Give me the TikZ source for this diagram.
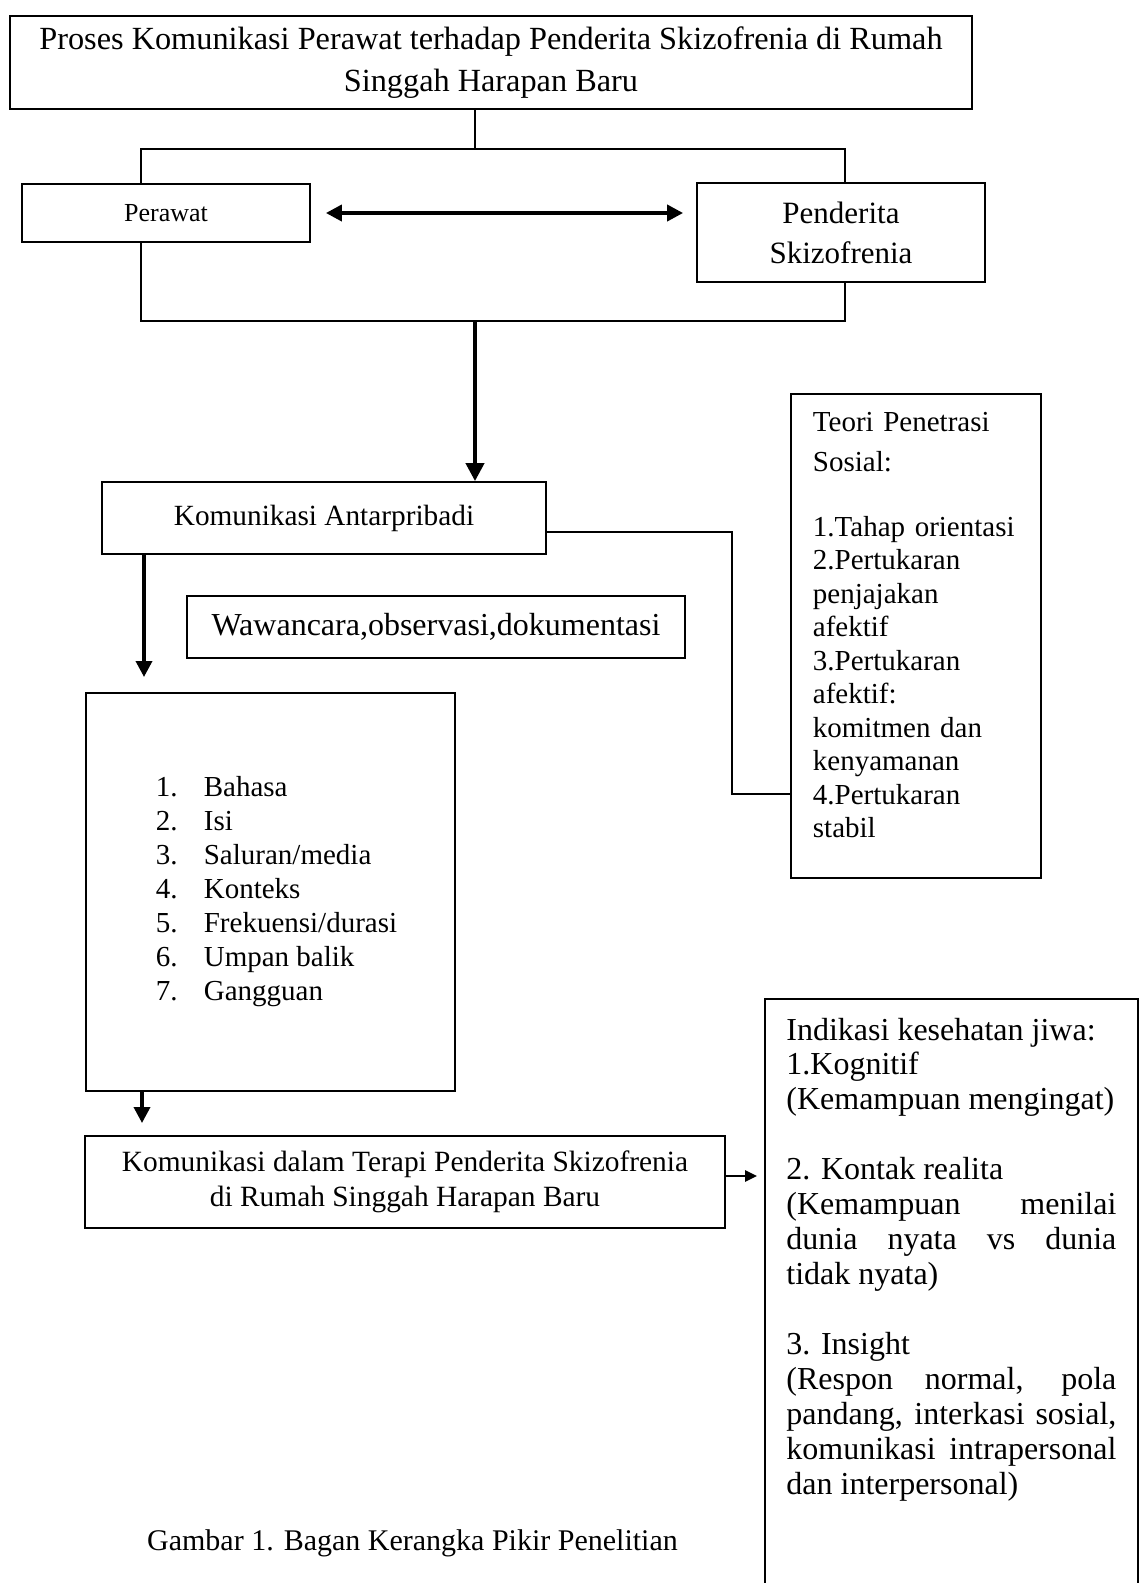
\documentclass[tikz,border=0pt]{standalone}
\usepackage{fontspec}
\setmainfont{Liberation Serif}
\usetikzlibrary{arrows.meta,positioning,calc}

\newcommand{\unsuritem}[2]{\hspace*{12pt}\makebox[48pt][l]{#1.}#2}

\begin{document}
\begin{tikzpicture}[x=1pt,y=-1pt,>={Triangle[length=16pt,width=16pt]},
    box node/.style={draw,rectangle,line width=1.8pt,inner sep=0pt,font=\fontsize{29}{35}\selectfont},
    link line/.style={line width=1.6pt},
    arrow line/.style={->,line width=3.6pt}]
  \path[use as bounding box, clip] (0,0) rectangle (1144,1583);
  \fill[white] (0,0) rectangle (1144,1583);

  % top part
  \node[box node, minimum width=962pt, minimum height=93pt, align=center,
        font=\fontsize{32.3}{42}\selectfont] (title) at (491,62.5)
        {Proses Komunikasi Perawat terhadap Penderita Skizofrenia di Rumah\\Singgah Harapan Baru};
  \node[box node, minimum width=288pt, minimum height=58pt,
        font=\fontsize{26}{30}\selectfont] (perawat) at (166,213) {Perawat};
  \node[box node, minimum width=288pt, minimum height=99pt, align=center,
        font=\fontsize{31}{40}\selectfont] (penderita) at (841,232.5) {Penderita\\Skizofrenia};

  \coordinate (jt) at (475,149);
  \coordinate (jtl) at (141,149);
  \coordinate (jtr) at (845,149);
  \coordinate (jb) at (475,321);
  \coordinate (jbl) at (141,321);
  \coordinate (jbr) at (845,321);

  \draw[link line] (title.south -| jt) -- (jt);
  \draw[link line] (perawat.north -| jtl) -- (jtl) -- (jtr) -- (penderita.north -| jtr);
  \draw[link line] (perawat.south -| jbl) -- (jbl) -- (jbr) -- (penderita.south -| jbr);
  \draw[<->, line width=3.8pt] ([xshift=15pt]perawat.east) -- ([xshift=-13pt]perawat.east -| penderita.west);

  % middle part
  \node[box node, minimum width=444pt, minimum height=72pt,
        font=\fontsize{29.3}{35}\selectfont] (antar) at (324,518) {Komunikasi Antarpribadi};
  \node[box node, minimum width=498pt, minimum height=62pt,
        font=\fontsize{32}{38}\selectfont] (metode) at (436,627) {Wawancara,observasi,dokumentasi};
  \node[box node, anchor=north west, text width=206pt, inner xsep=22pt, inner ysep=18pt,
        text depth=429pt, align=left, font=\fontsize{29}{33.5}\selectfont] (teori) at (790,393)
        {Teori Penetrasi\\[6.5pt]Sosial:\\[31.5pt]1.Tahap orientasi\\2.Pertukaran\\penjajakan\\afektif\\3.Pertukaran\\afektif:\\komitmen dan\\kenyamanan\\4.Pertukaran\\stabil};

  \draw[arrow line, line width=4pt, >={Triangle[length=18pt,width=18pt]}] (jb) -- (antar.north -| jb);
  \coordinate (ti) at (732,532);
  \draw[link line] (antar.east |- ti) -- (ti) |- (teori.west |- 0,794);

  \node[box node, minimum width=369pt, minimum height=398pt, align=left,
        font=\fontsize{29}{34}\selectfont] (unsur) at (270.5,892)
        {\unsuritem{1}{Bahasa}\\\unsuritem{2}{Isi}\\\unsuritem{3}{Saluran/media}\\\unsuritem{4}{Konteks}\\\unsuritem{5}{Frekuensi/durasi}\\\unsuritem{6}{Umpan balik}\\\unsuritem{7}{Gangguan}};
  \coordinate (a1) at (144,677);
  \draw[arrow line] (antar.south -| a1) -- (a1);

  % bottom part
  \node[box node, minimum width=640pt, minimum height=92pt, align=center,
        font=\fontsize{29.4}{35}\selectfont] (terapi) at (405,1182)
        {Komunikasi dalam Terapi Penderita Skizofrenia\\di Rumah Singgah Harapan Baru};
  \coordinate (a2) at (142,1123);
  \draw[arrow line] (unsur.south -| a2) -- (a2);

  \node[box node, anchor=north west, text width=330pt, inner xsep=21.5pt, inner ysep=19pt,
        text depth=600pt, align=justify, font=\fontsize{32}{35}\selectfont] (indikasi) at (764,998)
        {Indikasi kesehatan jiwa:\\[-1pt]1.Kognitif\\(Kemampuan mengingat)\\[35pt]2. Kontak realita\\(Kemampuan menilai\linebreak dunia nyata vs dunia\linebreak tidak nyata)\\[35pt]3. Insight\\(Respon normal, pola\linebreak pandang, interkasi sosial,\linebreak komunikasi intrapersonal\linebreak dan interpersonal)};
  \coordinate (a3) at (757,1176);
  \draw[->, line width=2.6pt, >={Triangle[length=12pt,width=11pt]}] (terapi.east |- a3) -- (a3);

  \node[font=\fontsize{30}{36}\selectfont] (caption) at (412.5,1543) {Gambar 1. Bagan Kerangka Pikir Penelitian};
\end{tikzpicture}
\end{document}
